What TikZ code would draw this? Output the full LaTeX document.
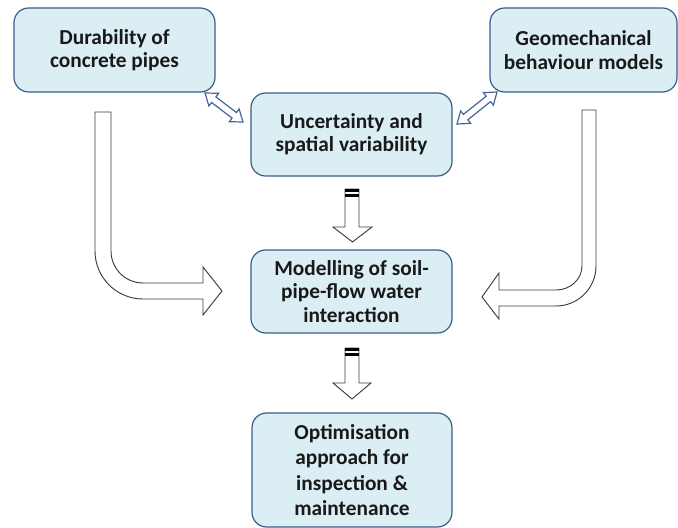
\documentclass[tikz,border=0pt]{standalone}
\usepackage{fontspec}
\setmainfont{Carlito}
\definecolor{boxfill}{RGB}{219,238,244}
\definecolor{boxdraw}{RGB}{56,93,138}
\definecolor{dbl}{RGB}{70,100,155}
\definecolor{txt}{RGB}{25,25,25}
\definecolor{blkline}{RGB}{60,60,60}
\begin{document}
\begin{tikzpicture}[x=0.75pt,y=-0.75pt,
  box/.style={draw=boxdraw, fill=boxfill, rounded corners=11pt, line width=0.9pt,
    align=center, font=\bfseries\fontsize{16}{17.5}\selectfont, text=txt, inner sep=0pt},
  blockarrow/.style={draw=blkline, fill=white, line width=0.7pt, line join=miter},
  dblarrow/.style={draw=dbl, fill=white, line width=0.9pt, line join=miter}]
\useasboundingbox (0,0) rectangle (678,528);

% boxes
\node[box, minimum width=150.75pt, minimum height=63pt] (b1) at (114.5,50) {Durability of\\concrete pipes};
\node[box, minimum width=140.25pt, minimum height=63pt] (b2) at (583.5,50) {Geomechanical\\behaviour models};
\node[box, minimum width=150.75pt, minimum height=62.25pt] (b3) at (351.5,134.5) {Uncertainty and\\spatial variability};
\node[box, minimum width=150.75pt, minimum height=62.25pt] (b4) at (351.5,291.5) {Modelling of soil-\\pipe-flow water\\interaction};
\node[box, minimum width=150pt, minimum height=85.5pt,
  font=\bfseries\fontsize{16}{19}\selectfont] (b5) at (352,470) {Optimisation\\approach for\\inspection \&\\maintenance};

% double arrows
\draw[dblarrow] (205,93) -- (218.6,93.3) -- (215.9,96.9) -- (236.4,112.5) -- (239.1,109.0)
  -- (243,122) -- (229.4,121.7) -- (232.1,118.1) -- (211.6,102.5) -- (208.9,106.0) -- cycle;
\draw[dblarrow] (457,124) -- (470.6,123.4) -- (467.8,119.8) -- (490.6,101.6) -- (493.4,105.1)
  -- (497,92) -- (483.4,92.6) -- (486.2,96.2) -- (463.4,114.4) -- (460.6,110.9) -- cycle;

% bent left arrow
\draw[blockarrow] (95,112) -- (95,251) .. controls (95,277.5) and (116.5,299) .. (143,299)
  -- (203,299) -- (203,315) -- (222,291) -- (203,267) -- (203,283) -- (143,283)
  .. controls (125.3,283) and (111,268.7) .. (111,251) -- (111,112) -- cycle;

% bent right arrow
\draw[blockarrow] (596,110) -- (596,266) .. controls (596,288.1) and (578.1,306) .. (556,306)
  -- (499,306) -- (499,319) -- (482,297) -- (499,273) -- (499,290) -- (556,290)
  .. controls (570.4,290) and (582,279.2) .. (582,266) -- (582,110) -- cycle;

% down arrows
\draw[blockarrow] (345,189) -- (345,227) -- (333,227) -- (352.5,242) -- (372,227) -- (359,227) -- (359,189) -- cycle;
\fill[black] (345,189) rectangle (359,192.3);
\fill[black] (345,193.5) rectangle (359,196.5);

\draw[blockarrow] (345,348) -- (345,383) -- (333,383) -- (352,399) -- (371,383) -- (359,383) -- (359,348) -- cycle;
\fill[black] (345,348) rectangle (359,351.3);
\fill[black] (345,352.5) rectangle (359,355.5);
\end{tikzpicture}
\end{document}
